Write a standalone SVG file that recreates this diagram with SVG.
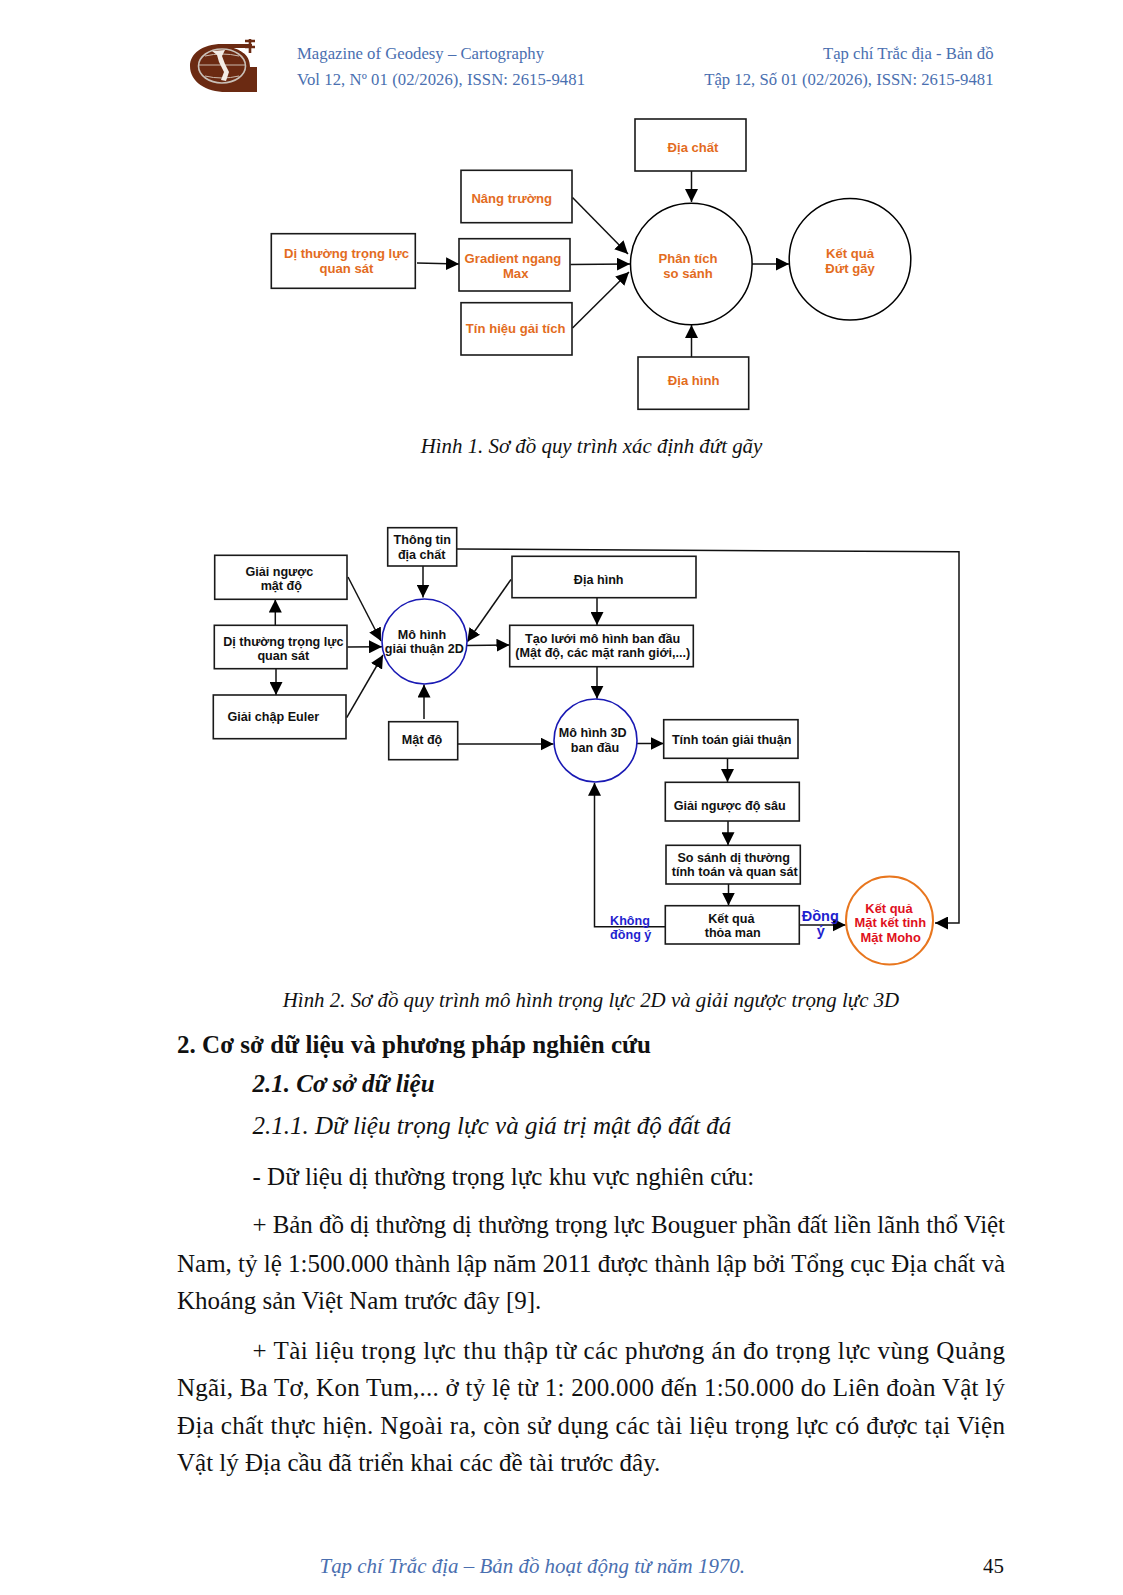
<svg xmlns="http://www.w3.org/2000/svg" width="1123" height="1595" viewBox="0 0 1123 1595">
<style>
.bg{fill:#fff}
.box{fill:#fff;stroke:#1a1a1a;stroke-width:1.6}
.cir{fill:#fff;stroke:#000;stroke-width:1.5}
.cb{fill:#fff;stroke:#1a1ab4;stroke-width:1.6}
.co{fill:#fff;stroke:#e8761e;stroke-width:2}
.e{fill:none;stroke:#111;stroke-width:1.5}
.a{marker-end:url(#ah)}
text{font-family:"Liberation Sans",Arial,sans-serif}
.t{font-weight:bold;font-size:12.6px;text-anchor:middle}
.or{fill:#e36c1e;font-size:13.1px}.bk{fill:#111}.bl{fill:#1f1fcf}.rd{fill:#e01020;font-size:12.9px}.big{font-size:14.5px}
.s{font-family:"Liberation Serif","Times New Roman",serif;fill:#111}
.h{font-family:"Liberation Serif","Times New Roman",serif;fill:#4a6fb0;font-size:16.7px}
.b{font-size:25px}
.cap{font-size:20.9px;font-style:italic;text-anchor:middle}
</style>
<defs>
<marker id="ah" markerUnits="userSpaceOnUse" markerWidth="14" markerHeight="13" refX="13" refY="6.5" orient="auto"><path d="M0 0L13 6.5L0 13z" fill="#000"/></marker>
</defs>
<rect class="bg" width="1123" height="1595"/>
<g id="logo">
<path d="M252 44H222C202 44 190 54 190 66C190 82 206 92 226 92H257V67H250C250 54 240 48 224 48L252 48z" fill="#6b2a12"/>
<ellipse cx="222" cy="66" rx="27" ry="20" fill="#6b2a12"/>
<ellipse cx="222" cy="66" rx="23.5" ry="17" fill="none" stroke="#c9c0b8" stroke-width="1.6"/>
<path d="M199 65H245M205 56Q222 52 239 56M205 76Q222 80 239 76" fill="none" stroke="#cbb9ad" stroke-width="1"/>
<path d="M212 51L225 50L222 56L225 64L229 72L226 81L221 80L224 72L219 62L217 55z" fill="#f2ece6"/>
<path d="M250 39V53M245 41H255M245 47H255" fill="none" stroke="#6b2a12" stroke-width="2.6"/>
<path d="M222 45.5H250" stroke="#6b2a12" stroke-width="2.5"/>
</g>
<g id="header">
<text class="h" x="297" y="59" textLength="247">Magazine of Geodesy – Cartography</text>
<text class="h" x="297" y="84.5" textLength="288">Vol 12, Nº 01 (02/2026), ISSN: 2615-9481</text>
<text class="h" x="993.5" y="59" text-anchor="end">Tạp chí Trắc địa - Bản đồ</text>
<text class="h" x="993.5" y="84.5" text-anchor="end">Tập 12, Số 01 (02/2026), ISSN: 2615-9481</text>
</g>
<g id="connectors">
<path class="e a" d="M417 263L459 264"/>
<path class="e a" d="M572.5 197.5L628 254"/>
<path class="e a" d="M570.5 264.5L630 264"/>
<path class="e a" d="M572.5 328L629 272"/>
<path class="e a" d="M691.5 171V202"/>
<path class="e a" d="M691.5 357V325"/>
<path class="e a" d="M752 264H789"/>
<path class="e a" d="M423 566V597.5"/>
<path class="e a" d="M275.3 625V599.5"/>
<path class="e a" d="M276 669V695"/>
<path class="e a" d="M348 577L381 641"/>
<path class="e a" d="M347.5 647L382 646.7"/>
<path class="e a" d="M346.7 717.7L383 655"/>
<path class="e a" d="M424 719V684.5"/>
<path class="e a" d="M457 549L959 551.7V923H935"/>
<path class="e a" d="M511 579.5L467.3 641.7"/>
<path class="e a" d="M597 598V625"/>
<path class="e a" d="M467 645.5L509.5 645"/>
<path class="e a" d="M597 667V698.7"/>
<path class="e a" d="M458 744H553.5"/>
<path class="e a" d="M636.5 743.5H663.7"/>
<path class="e a" d="M727.5 758.5V782"/>
<path class="e a" d="M728 821V845.3"/>
<path class="e a" d="M728.5 884V905.5"/>
<path class="e a" d="M665 926.7H594.5V782.7"/>
<path class="e a" d="M799.5 925H845.7"/>
</g>
<g id="n1"><rect class="box" x="271.3" y="233.7" width="144" height="54.6"/><text class="t or" x="346.5" y="258.3">Dị thường trọng lực</text><text class="t or" x="346.5" y="272.7">quan sát</text></g>
<g id="n2"><rect class="box" x="461" y="170.3" width="111" height="52.4"/><text class="t or" x="511.7" y="203.3">Nâng trường</text></g>
<g id="n3"><rect class="box" x="459" y="238.7" width="111" height="52.3"/><text class="t or" x="513" y="262.7">Gradient ngang</text><text class="t or" x="515.7" y="277.7">Max</text></g>
<g id="n4"><rect class="box" x="461" y="302.7" width="111" height="52.3"/><text class="t or" x="515.7" y="333.3">Tín hiệu gải tích</text></g>
<g id="n5"><rect class="box" x="635" y="119" width="111" height="52"/><text class="t or" x="693" y="151.7">Địa chất</text></g>
<g id="n6"><rect class="box" x="638" y="357" width="110.7" height="52.3"/><text class="t or" x="693.7" y="385">Địa hình</text></g>
<g id="n7"><circle class="cir" cx="691.3" cy="264" r="60.8"/><text class="t or" x="688" y="262.7">Phân tích</text><text class="t or" x="688" y="277.7">so sánh</text></g>
<g id="n8"><circle class="cir" cx="850" cy="259.3" r="60.8"/><text class="t or" x="850" y="257.7">Kết quả</text><text class="t or" x="850" y="273.3">Đứt gãy</text></g>
<g id="m1"><rect class="box" x="387.7" y="527.7" width="69" height="38.3"/><text class="t bk" x="422.3" y="544.3">Thông tin</text><text class="t bk" x="421.7" y="558.7">địa chất</text></g>
<g id="m2"><rect class="box" x="214.7" y="555.3" width="132.3" height="44"/><text class="t bk" x="279.3" y="576">Giải ngược</text><text class="t bk" x="281.3" y="590">mật độ</text></g>
<g id="m3"><rect class="box" x="214.3" y="625.3" width="132.7" height="43.4"/><text class="t bk" x="283.3" y="645.7">Dị thường trọng lực</text><text class="t bk" x="283.3" y="660">quan sát</text></g>
<g id="m4"><rect class="box" x="213.3" y="695" width="132.7" height="43.7"/><text class="t bk" x="273.3" y="721">Giải chập Euler</text></g>
<g id="m5"><rect class="box" x="388.7" y="721.7" width="69" height="38"/><text class="t bk" x="422" y="744.3">Mật độ</text></g>
<g id="m6"><circle class="cb" cx="424.5" cy="641.5" r="42.5"/><text class="t bk" x="422" y="638.7">Mô hình</text><text class="t bk" x="424.3" y="653.3">giải thuận 2D</text></g>
<g id="m7"><rect class="box" x="512" y="556.3" width="184" height="41.4"/><text class="t bk" x="598.7" y="584">Địa hình</text></g>
<g id="m8"><rect class="box" x="509.7" y="625.3" width="183.6" height="41.4"/><text class="t bk" x="602.7" y="642.7">Tạo lưới mô hình ban đầu</text><text class="t bk" x="602.7" y="657.3">(Mật độ, các mặt ranh giới,...)</text></g>
<g id="m9"><circle class="cb" cx="595.5" cy="740.5" r="41.5"/><text class="t bk" x="592.7" y="737.3">Mô hình 3D</text><text class="t bk" x="595" y="752">ban đầu</text></g>
<g id="m10"><rect class="box" x="663.7" y="719.7" width="134.3" height="38.6"/><text class="t bk" x="731.7" y="743.7">Tính toán giải thuận</text></g>
<g id="m11"><rect class="box" x="665.3" y="782.3" width="134" height="38.7"/><text class="t bk" x="729.7" y="809.7">Giải ngược độ sâu</text></g>
<g id="m12"><rect class="box" x="666" y="845.3" width="134.3" height="38.7"/><text class="t bk" x="733.7" y="861.7">So sánh dị thường</text><text class="t bk" x="734.7" y="876.3">tính toán và quan sát</text></g>
<g id="m13"><rect class="box" x="665.3" y="905.7" width="134" height="38.3"/><text class="t bk" x="731.3" y="923">Kết quả</text><text class="t bk" x="732.7" y="937.3">thỏa man</text></g>
<g id="m14"><ellipse class="co" cx="889.5" cy="920.5" rx="43.5" ry="44"/><text class="t rd" x="889" y="913">Kết quả</text><text class="t rd" x="890.3" y="927.3">Mặt kết tinh</text><text class="t rd" x="890.7" y="941.7">Mặt Moho</text></g>
<g id="labels">
<text class="t bl" x="630" y="924.7">Không</text><text class="t bl" x="630.7" y="939.3">đồng ý</text>
<text class="t bl big" x="820.3" y="921">Đồng</text><text class="t bl big" x="820.7" y="936">ý</text>
</g>
<g id="body">
<text class="s cap" x="591.5" y="453">Hình 1. Sơ đồ quy trình xác định đứt gãy</text>
<text class="s cap" x="591" y="1007">Hình 2. Sơ đồ quy trình mô hình trọng lực 2D và giải ngược trọng lực 3D</text>
<text class="s b" x="177" y="1052.7" font-weight="bold" textLength="474">2. Cơ sở dữ liệu và phương pháp nghiên cứu</text>
<text class="s b" x="252.5" y="1091.7" font-weight="bold" font-style="italic">2.1. Cơ sở dữ liệu</text>
<text class="s b" x="252.5" y="1134.3" font-style="italic">2.1.1. Dữ liệu trọng lực và giá trị mật độ đất đá</text>
<text class="s b" x="252.5" y="1185">- Dữ liệu dị thường trọng lực khu vực nghiên cứu:</text>
<text class="s b" x="252.5" y="1233.3" textLength="752.5">+ Bản đồ dị thường dị thường trọng lực Bouguer phần đất liền lãnh thổ Việt</text>
<text class="s b" x="177" y="1272" textLength="828">Nam, tỷ lệ 1:500.000 thành lập năm 2011 được thành lập bởi Tổng cục Địa chất và</text>
<text class="s b" x="177" y="1309.3">Khoáng sản Việt Nam trước đây [9].</text>
<text class="s b" x="252.5" y="1359" textLength="752.5">+ Tài liệu trọng lực thu thập từ các phương án đo trọng lực vùng Quảng</text>
<text class="s b" x="177" y="1396" textLength="828">Ngãi, Ba Tơ, Kon Tum,... ở tỷ lệ từ 1: 200.000 đến 1:50.000 do Liên đoàn Vật lý</text>
<text class="s b" x="177" y="1434" textLength="828">Địa chất thực hiện. Ngoài ra, còn sử dụng các tài liệu trọng lực có được tại Viện</text>
<text class="s b" x="177" y="1471">Vật lý Địa cầu đã triển khai các đề tài trước đây.</text>
</g>
<g id="footer">
<text class="s" x="319.5" y="1572.5" font-size="20.95" font-style="italic" style="fill:#4a6fb0">Tạp chí Trắc địa – Bản đồ hoạt động từ năm 1970.</text>
<text class="s" x="1004" y="1572.5" font-size="20.95" text-anchor="end">45</text>
</g>
</svg>
